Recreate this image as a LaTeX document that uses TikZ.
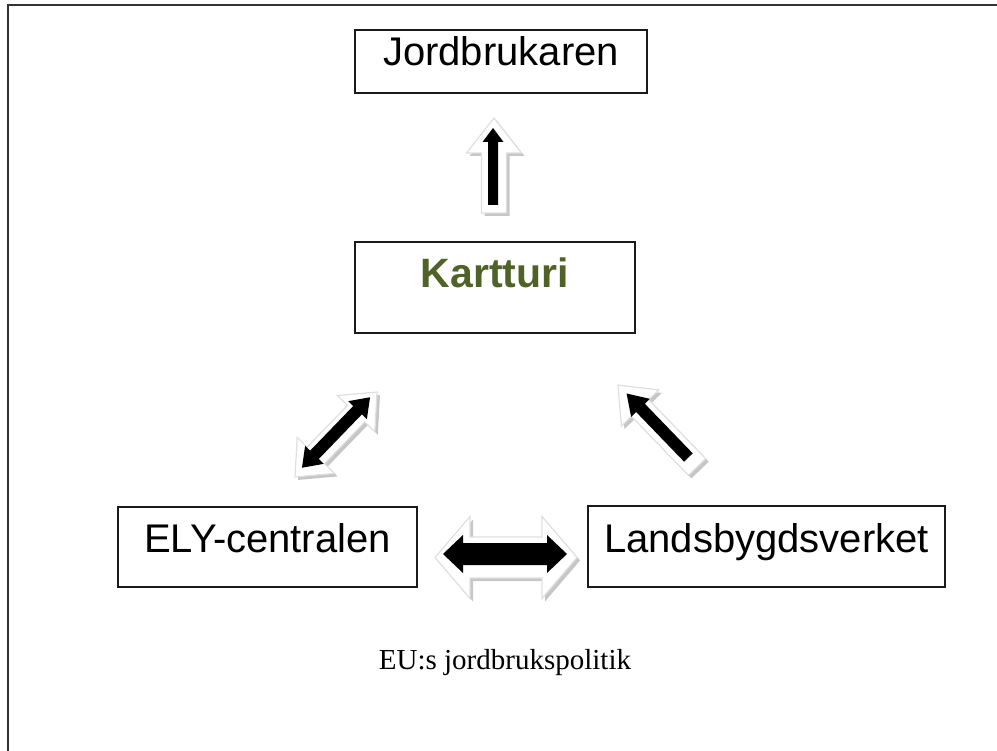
\documentclass[tikz,border=0pt]{standalone}
\usepackage{fontspec}
\setmainfont{Liberation Sans}
\newfontfamily\serifface{Liberation Serif}
\definecolor{kgreen}{HTML}{4F6228}
\definecolor{boxline}{HTML}{1A1A1A}
\tikzset{
  boxnode/.style={draw=boxline, line width=1.6pt, fill=white, inner sep=0pt, font=\fontsize{40}{44}\selectfont},
  outerarrow/.style={fill=white, draw=gray!25, line width=1.2pt},
  shadowarrow/.style={fill=gray!45},
  innerarrow/.style={fill=black}
}
% single block arrow: #1 centre, #2 angle, #3 length, #4 shaft half width, #5 head half width, #6 head length, #7 style
\newcommand{\blkarrow}[7]{%
  \begin{scope}[shift={#1}, rotate=#2]
    \path[#7] ({-#3/2},{-#4}) -- ({#3/2-#6},{-#4}) -- ({#3/2-#6},{-#5}) -- ({#3/2},0)
      -- ({#3/2-#6},{#5}) -- ({#3/2-#6},{#4}) -- ({-#3/2},{#4}) -- cycle;
  \end{scope}}
% double block arrow
\newcommand{\dblarrow}[7]{%
  \begin{scope}[shift={#1}, rotate=#2]
    \path[#7] ({-#3/2},0) -- ({-#3/2+#6},{-#5}) -- ({-#3/2+#6},{-#4}) -- ({#3/2-#6},{-#4})
      -- ({#3/2-#6},{-#5}) -- ({#3/2},0) -- ({#3/2-#6},{#5}) -- ({#3/2-#6},{#4})
      -- ({-#3/2+#6},{#4}) -- ({-#3/2+#6},{#5}) -- cycle;
  \end{scope}}
\begin{document}
\begin{tikzpicture}[x=1pt,y=-1pt]
\useasboundingbox (0,0) rectangle (997,751);
% outer frame (runs beyond the right and bottom edges)
\draw[line width=2pt, black!80] (7.5,760) -- (7.5,5.5) -- (1010,5.5);

% boxes
\node[boxnode, minimum width=292pt, text height=36pt, text depth=27pt] (jord) at (501,61.5) {Jordbrukaren};
\node[boxnode, minimum width=280pt, text height=46pt, text depth=45pt, text=kgreen, font=\fontsize{41}{44}\selectfont\bfseries] (kart) at (495,287.5) {Kartturi};
\node[boxnode, minimum width=299pt, text height=45pt, text depth=35pt] (ely) at (267.5,547) {ELY-centralen};
\node[boxnode, minimum width=357pt, text height=46pt, text depth=35pt] (land) at (766.5,546.5) {Landsbygdsverket};
\node[font=\serifface\fontsize{29}{32}\selectfont] (eu) at (505,663) {EU:s jordbrukspolitik};

% arrow Kartturi -> Jordbrukaren
\blkarrow{(497,168.5)}{90}{95}{12.5}{27.5}{35}{shadowarrow}
\blkarrow{(494,165.5)}{90}{95}{12.5}{27.5}{35}{outerarrow}
\blkarrow{(493,166.5)}{90}{77}{5}{10.5}{14}{innerarrow}

% arrow ELY <-> Kartturi
\dblarrow{(339,437.5)}{46}{118}{12}{26}{30}{shadowarrow}
\dblarrow{(336,434.5)}{46}{118}{12}{26}{30}{outerarrow}
\dblarrow{(336,432.5)}{46}{98}{6}{13}{18}{innerarrow}

% arrow Landsbygdsverket -> Kartturi
\blkarrow{(660.5,429)}{134}{114}{12}{26}{32}{shadowarrow}
\blkarrow{(657.5,426)}{134}{114}{12}{26}{32}{outerarrow}
\blkarrow{(657.5,425.5)}{134}{89}{6}{13}{20}{innerarrow}

% arrow ELY <-> Landsbygdsverket
\dblarrow{(509,560.5)}{0}{142}{20.5}{41}{35}{shadowarrow}
\dblarrow{(506,557.5)}{0}{142}{20.5}{41}{35}{outerarrow}
\dblarrow{(505,554)}{0}{124}{11}{19}{20}{innerarrow}
\end{tikzpicture}
\end{document}
